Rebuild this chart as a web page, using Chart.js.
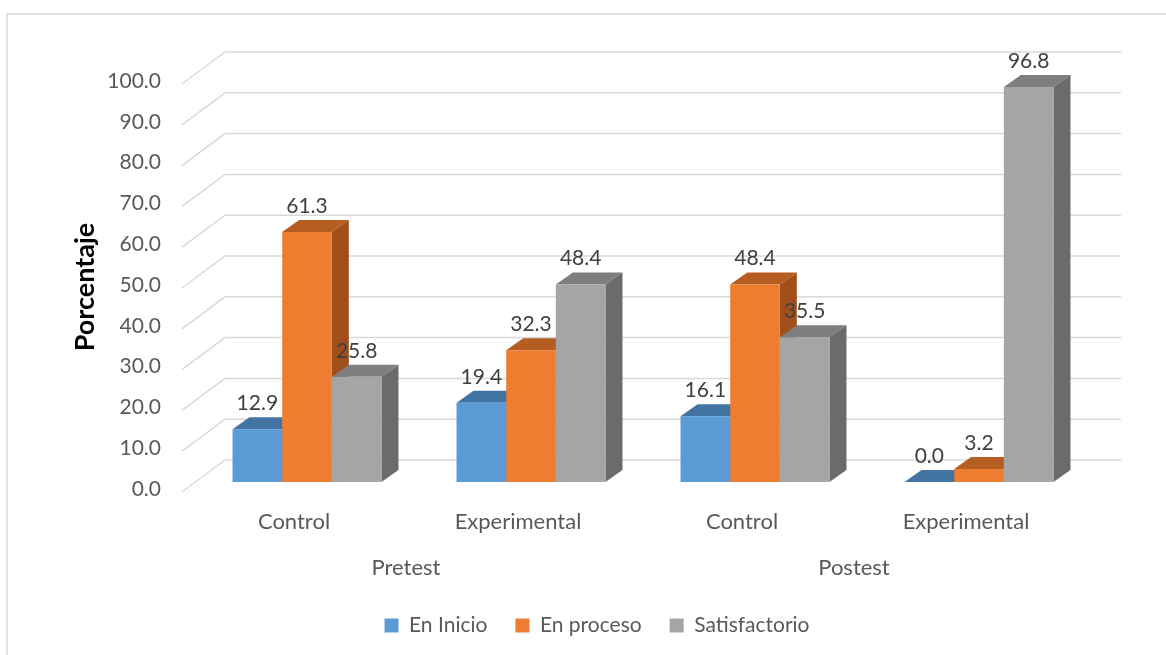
<!DOCTYPE html>
<html>
<head>
<meta charset="utf-8">
<script src="https://cdn.jsdelivr.net/npm/chart.js@4/dist/chart.umd.min.js"></script>
<style>
  html, body { margin: 0; padding: 0; background: #fff; }
  #wrap { position: relative; width: 1166px; height: 655px; }
</style>
</head>
<body>
<div id="wrap"><canvas id="chart"></canvas></div>
<script>
// categorías (grupo / fase) y porcentajes por nivel de logro
const grupos = ['Control', 'Experimental', 'Control', 'Experimental'];
const fases = ['Pretest', 'Postest'];
const niveles = ['En Inicio', 'En proceso', 'Satisfactorio'];
const enInicio = [12.9, 19.4, 16.1, 0.0];
const enProceso = [61.3, 32.3, 48.4, 3.2];
const satisfactorio = [25.8, 48.4, 35.5, 96.8];

// colores: cara frontal, tapa y lateral
const frontColors = ['#5b9bd5', '#ed7d31', '#a5a5a5'];
const topColors = ['#4273a3', '#b65d22', '#7e7e7e'];
const sideColors = ['#3d6a95', '#a04f1b', '#6b6b6b'];

// profundidad de las barras y desplazamiento de la pared del fondo
const DEPTH_X = 17, DEPTH_Y = 12;
const WALL_X = 30, WALL_Y = 22;
const FLOOR_X = -13, FLOOR_Y = 10;

const FONT = 'Lato, "Open Sans", sans-serif';

const marco = {
  id: 'marco',
  beforeDraw(chart) {
    const ctx = chart.ctx;
    ctx.save();
    ctx.strokeStyle = '#d9d9d9';
    ctx.lineWidth = 1.5;
    ctx.beginPath();
    ctx.moveTo(7, chart.height);
    ctx.lineTo(7, 14);
    ctx.lineTo(chart.width, 14);
    ctx.stroke();
    ctx.restore();
  }
};

// rejilla en perspectiva (fondo + diagonal lateral), luego tapas y laterales
// de las barras; las caras frontales las pinta Chart.js encima
const escena3d = {
  id: 'escena3d',
  beforeDatasetsDraw(chart) {
    const { ctx, chartArea, scales: { y } } = chart;
    ctx.save();
    ctx.strokeStyle = '#d9d9d9';
    ctx.lineWidth = 1.5;
    y.ticks.forEach(t => {
      const py = y.getPixelForValue(t.value);
      ctx.beginPath();
      ctx.moveTo(chartArea.left + FLOOR_X, py + FLOOR_Y);
      ctx.lineTo(chartArea.left + WALL_X, py - WALL_Y);
      ctx.lineTo(chartArea.right + WALL_X, py - WALL_Y);
      ctx.stroke();
    });

    chart.data.datasets.forEach((ds, i) => {
      chart.getDatasetMeta(i).data.forEach(el => {
        const x0 = el.x - el.width / 2, x1 = el.x + el.width / 2;
        const yt = el.y, yb = el.base;
        ctx.fillStyle = topColors[i];
        ctx.beginPath();
        ctx.moveTo(x0, yt);
        ctx.lineTo(x1, yt);
        ctx.lineTo(x1 + DEPTH_X, yt - DEPTH_Y);
        ctx.lineTo(x0 + DEPTH_X, yt - DEPTH_Y);
        ctx.closePath();
        ctx.fill();
        ctx.fillStyle = sideColors[i];
        ctx.beginPath();
        ctx.moveTo(x1, yt);
        ctx.lineTo(x1 + DEPTH_X, yt - DEPTH_Y);
        ctx.lineTo(x1 + DEPTH_X, yb - DEPTH_Y);
        ctx.lineTo(x1, yb);
        ctx.closePath();
        ctx.fill();
      });
    });
    ctx.restore();
  }
};

// valores sobre las barras y título del eje
const etiquetas = {
  id: 'etiquetas',
  afterDatasetsDraw(chart) {
    const ctx = chart.ctx;
    ctx.save();
    ctx.font = '21px ' + FONT;
    ctx.fillStyle = '#404040';
    ctx.textAlign = 'center';
    ctx.textBaseline = 'middle';
    chart.data.datasets.forEach((ds, i) => {
      chart.getDatasetMeta(i).data.forEach((el, j) => {
        ctx.fillText(ds.data[j].toFixed(1), el.x, el.y - 26);
      });
    });
    ctx.translate(85, 287);
    ctx.rotate(-Math.PI / 2);
    ctx.font = 'bold 27px ' + FONT;
    ctx.fillStyle = '#000';
    ctx.fillText('Porcentaje', 0, 0);
    ctx.restore();
  }
};

const series = [enInicio, enProceso, satisfactorio];

new Chart(document.getElementById('chart'), {
  type: 'bar',
  data: {
    labels: grupos,
    datasets: niveles.map((n, i) => ({
      label: n,
      data: series[i],
      backgroundColor: frontColors[i],
      borderWidth: 0,
      categoryPercentage: 0.665,
      barPercentage: 1
    }))
  },
  plugins: [marco, escena3d, etiquetas],
  options: {
    responsive: true,
    maintainAspectRatio: false,
    animation: false,
    layout: { padding: { left: 103, right: 75, top: 74, bottom: 18 } },
    plugins: {
      tooltip: { enabled: false },
      legend: {
        position: 'bottom',
        maxHeight: 50,
        labels: {
          boxWidth: 14,
          boxHeight: 14,
          padding: 28,
          color: '#595959',
          font: { family: FONT, size: 21 }
        }
      }
    },
    scales: {
      y: {
        min: 0,
        max: 100,
        ticks: {
          stepSize: 10,
          padding: 34,
          labelOffset: 7,
          color: '#595959',
          font: { family: FONT, size: 21 },
          callback: v => v.toFixed(1)
        },
        grid: { display: false, drawTicks: false },
        border: { display: false },
        afterFit: s => { s.width = 92; }
      },
      x: {
        ticks: {
          padding: 27,
          labelOffset: FLOOR_X,
          color: '#595959',
          font: { family: FONT, size: 22 }
        },
        grid: { display: false, drawTicks: false },
        border: { display: false },
        afterFit: s => { s.height = 60; }
      },
      x2: {
        type: 'category',
        position: 'bottom',
        labels: fases,
        offset: true,
        weight: 1,
        ticks: {
          padding: 13,
          labelOffset: FLOOR_X,
          color: '#595959',
          font: { family: FONT, size: 22 }
        },
        grid: { display: false, drawTicks: false },
        border: { display: false },
        afterFit: s => { s.height = 45; }
      }
    }
  }
});
</script>
</body>
</html>
